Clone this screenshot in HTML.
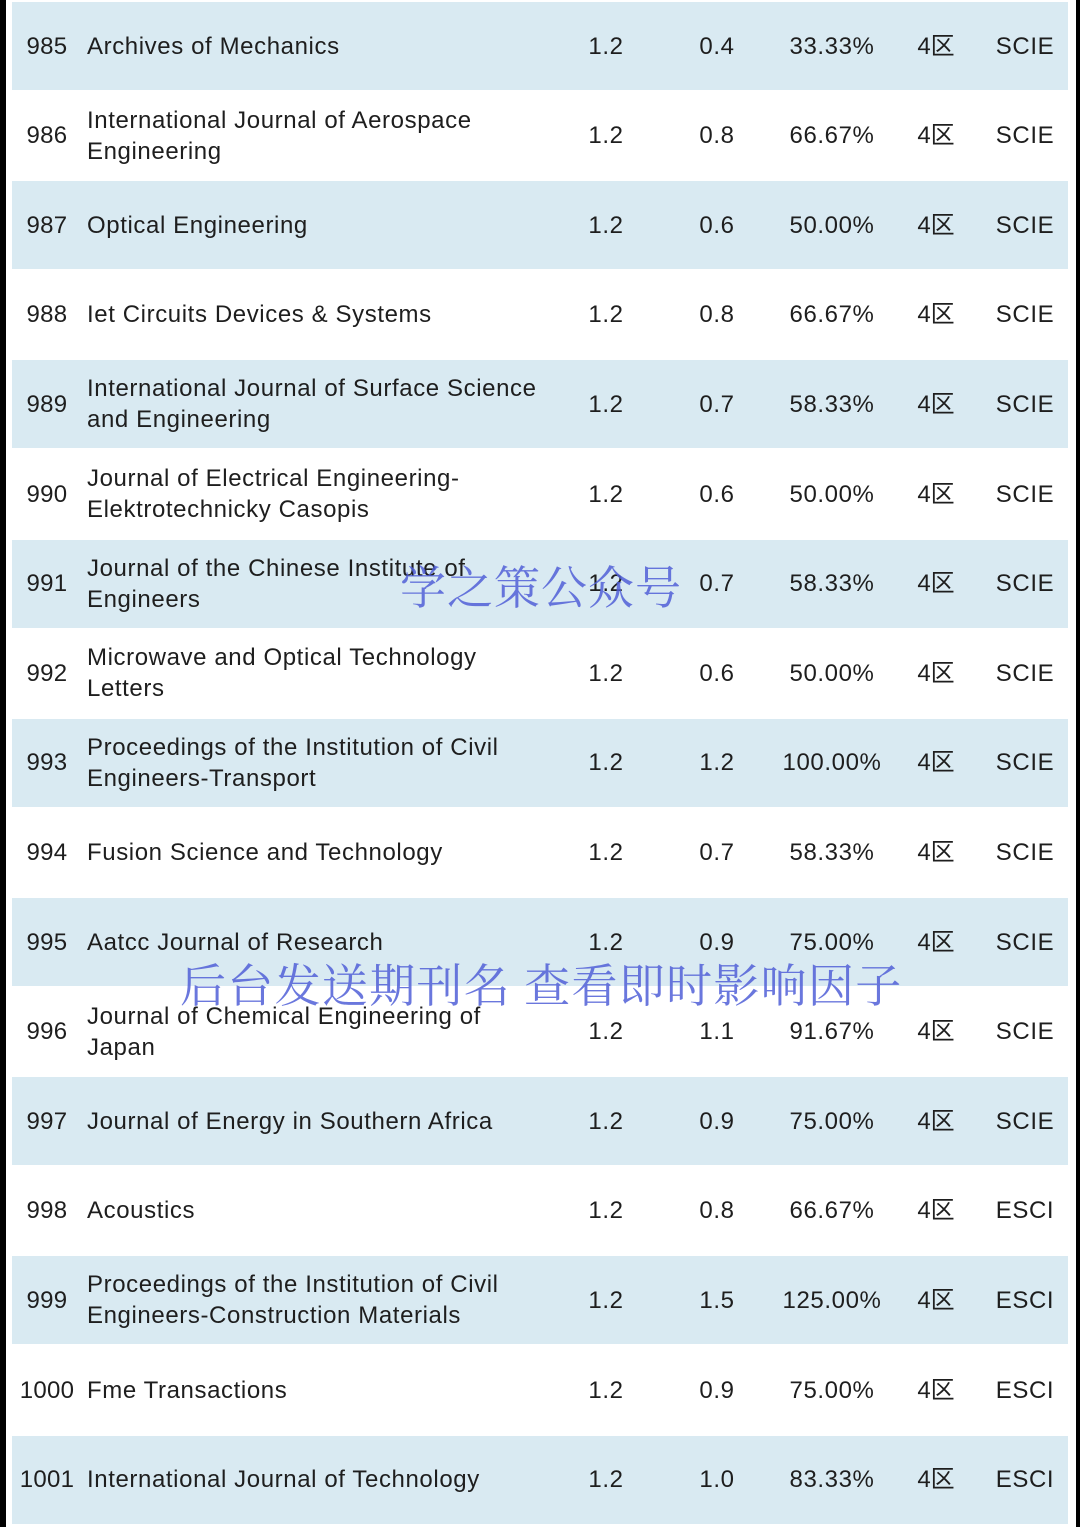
<!DOCTYPE html>
<html><head><meta charset="utf-8"><style>
body{margin:0;width:1080px;height:1527px;background:#fff;position:relative;overflow:hidden;font-family:"Liberation Sans","Noto Sans CJK SC",sans-serif;color:#1e1e1e}
.edge{position:absolute;top:0;height:1527px;background:#000}
.row{position:absolute;left:12px;width:1056px;height:88px}
.row.b{background:#d9eaf2}
.c{position:absolute;top:0;height:88px;display:flex;align-items:center;font-size:24px;line-height:31px;letter-spacing:0.6px;white-space:nowrap}
.n{left:0;width:70px;justify-content:center;letter-spacing:0.3px}
.t{left:75px;width:480px}
.v1{left:554px;width:80px;justify-content:center}
.v2{left:665px;width:80px;justify-content:center}
.p{left:760px;width:120px;justify-content:center}
.q{left:894px;width:60px;justify-content:center;letter-spacing:0}
.s{left:970px;width:86px;justify-content:center}
.wm{position:absolute;font-family:"Noto Serif CJK SC",serif;font-size:46px;color:rgba(80,95,215,0.85);white-space:nowrap;line-height:1}
</style></head><body>
<div class="edge" style="left:0;width:6px"></div>
<div class="edge" style="right:0;width:4px"></div>
<div id="rows"></div>
<div class="wm" style="left:400px;top:562px;letter-spacing:1px">学之策公众号</div>
<div class="wm" style="left:180px;top:960px;letter-spacing:1.3px">后台发送期刊名 查看即时影响因子</div>
<script>
const nums=[985,986,987,988,989,990,991,992,993,994,995,996,997,998,999,1000,1001];
const names=["Archives of Mechanics","International Journal of Aerospace<br>Engineering","Optical Engineering","Iet Circuits Devices &amp; Systems","International Journal of Surface Science<br>and Engineering","Journal of Electrical Engineering-<br>Elektrotechnicky Casopis","Journal of the Chinese Institute of<br>Engineers","Microwave and Optical Technology<br>Letters","Proceedings of the Institution of Civil<br>Engineers-Transport","Fusion Science and Technology","Aatcc Journal of Research","Journal of Chemical Engineering of<br>Japan","Journal of Energy in Southern Africa","Acoustics","Proceedings of the Institution of Civil<br>Engineers-Construction Materials","Fme Transactions","International Journal of Technology"];
const v1=["1.2","1.2","1.2","1.2","1.2","1.2","1.2","1.2","1.2","1.2","1.2","1.2","1.2","1.2","1.2","1.2","1.2"];
const v2=["0.4","0.8","0.6","0.8","0.7","0.6","0.7","0.6","1.2","0.7","0.9","1.1","0.9","0.8","1.5","0.9","1.0"];
const pct=["33.33%","66.67%","50.00%","66.67%","58.33%","50.00%","58.33%","50.00%","100.00%","58.33%","75.00%","91.67%","75.00%","66.67%","125.00%","75.00%","83.33%"];
const idx=["SCIE","SCIE","SCIE","SCIE","SCIE","SCIE","SCIE","SCIE","SCIE","SCIE","SCIE","SCIE","SCIE","ESCI","ESCI","ESCI","ESCI"];
const root=document.getElementById('rows');
nums.forEach((n,i)=>{
  const r=document.createElement('div');
  
  
  r.className='row'+(i%2===0?' b':'');
  r.style.top=(2+i*89.6)+'px';
  r.innerHTML='<div class="c n">'+n+'</div><div class="c t"><span>'+names[i]+'</span></div><div class="c v1">'+v1[i]+'</div><div class="c v2">'+v2[i]+'</div><div class="c p">'+pct[i]+'</div><div class="c q">4区</div><div class="c s">'+idx[i]+'</div>';
  root.appendChild(r);
});
</script>
</body></html>
